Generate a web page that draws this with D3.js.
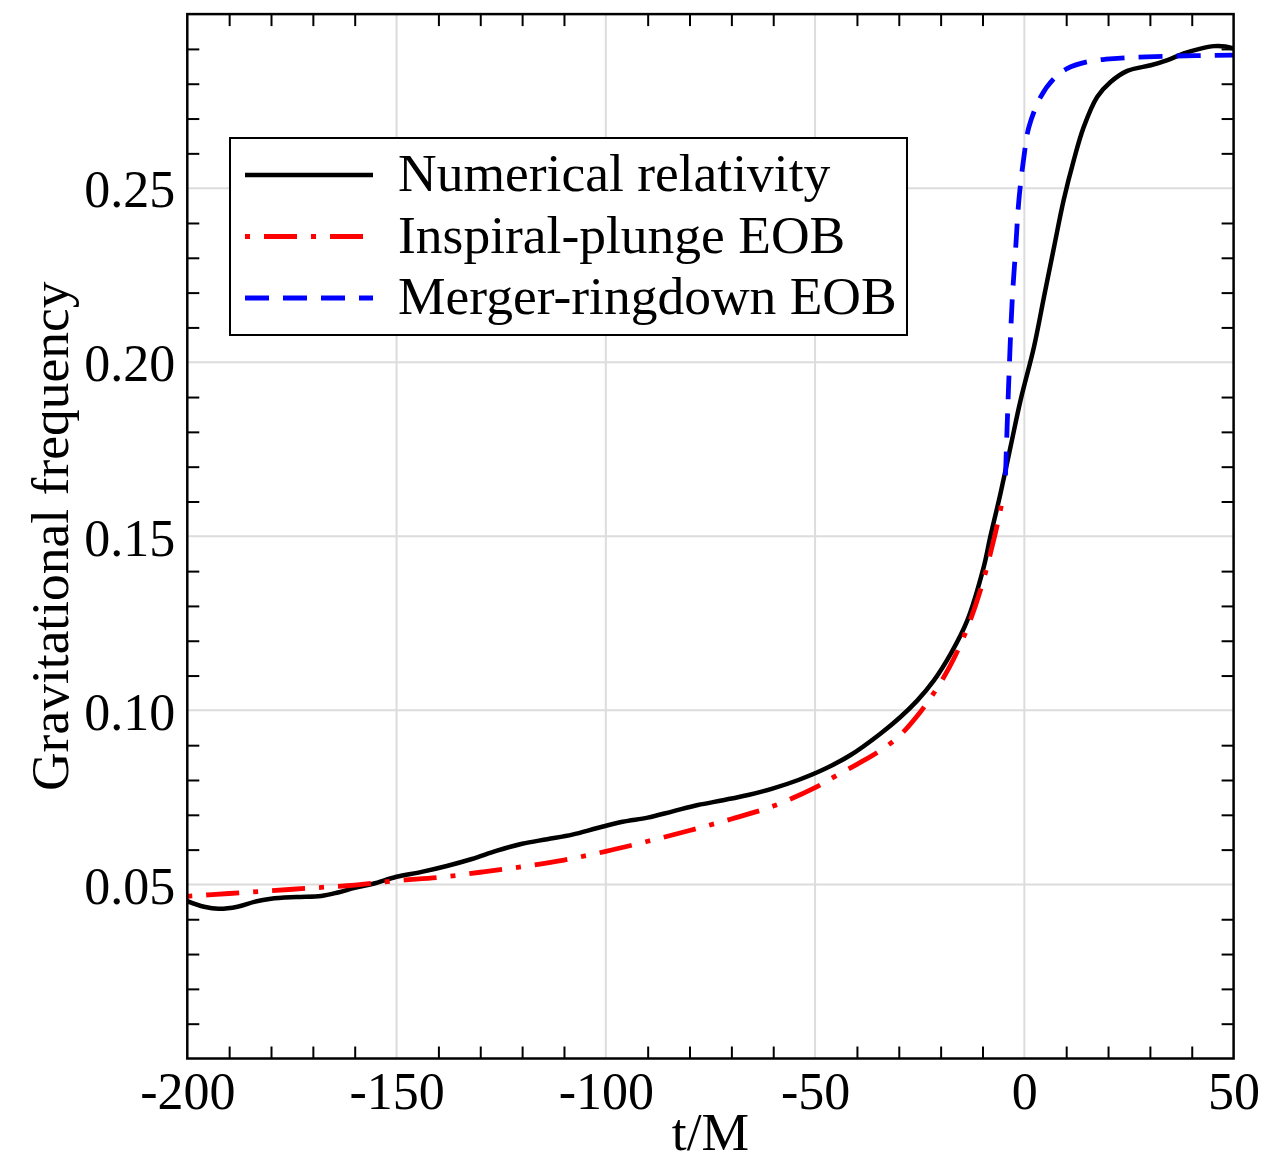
<!DOCTYPE html>
<html>
<head>
<meta charset="utf-8">
<script src="https://cdn.jsdelivr.net/npm/d3@7"></script>
<style>
	body { margin: 0; background: #fff; }
	text { font-family: "Liberation Serif", "Times New Roman", serif; fill: #000; }
</style>
</head>
<body>
<svg id="fig" width="1288" height="1162"></svg>
<script>
"use strict";

// données (t/M, fréquence)
var tempsNR = [-200, -196, -192.5, -188, -184, -180, -174, -168, -164, -160, -155.6, -150, -144, -138, -132, -126, -120, -114, -108, -102, -96, -90, -84, -78, -72, -66, -60, -54, -48, -41.6, -34.4, -29.6, -25.6, -21.6, -17.6, -13.6, -9.7, -8.2, -5.7, -3.3, -0.9, 2.3, 4.7, 7.1, 9.4, 11.8, 14.2, 17.4, 20.6, 24.6, 30.2, 34.2, 38.1, 42.1, 45.3, 48, 50];
var freqNR = [0.0452, 0.0436, 0.0430, 0.0436, 0.0450, 0.0459, 0.0464, 0.0467, 0.0477, 0.0490, 0.0502, 0.0522, 0.0536, 0.0553, 0.0573, 0.0597, 0.0617, 0.0630, 0.0643, 0.0662, 0.0680, 0.0692, 0.0710, 0.0728, 0.0742, 0.0757, 0.0776, 0.0800, 0.0830, 0.0871, 0.0933, 0.0981, 0.1028, 0.1086, 0.1162, 0.1259, 0.1412, 0.1495, 0.1623, 0.1757, 0.1891, 0.2044, 0.2188, 0.2331, 0.2466, 0.2580, 0.2676, 0.2762, 0.2805, 0.2837, 0.2853, 0.2868, 0.2887, 0.2901, 0.2908, 0.2907, 0.2901];

var tempsIP = [-200, -190, -180, -170, -160, -150, -140, -130, -120, -110, -100, -90, -80, -70, -60, -50, -45, -40, -35, -30, -26, -22, -18, -14, -10.5, -7.1, -5.3];
var freqIP = [0.0466, 0.0474, 0.0482, 0.0490, 0.0498, 0.0511, 0.0520, 0.0535, 0.0551, 0.0570, 0.0595, 0.0624, 0.0655, 0.0688, 0.0725, 0.0778, 0.0812, 0.0845, 0.0880, 0.0925, 0.0978, 0.1043, 0.1122, 0.1225, 0.1345, 0.1500, 0.1600];

var tempsMR = [-4.5, -3.8, -2.9, -2.1, -1.3, -0.1, 1.1, 3.9, 7.1, 10.3, 15, 22.2, 34.2, 50];
var freqMR = [0.1675, 0.1920, 0.2178, 0.2322, 0.2466, 0.2590, 0.2676, 0.2762, 0.2815, 0.2844, 0.2863, 0.2873, 0.2879, 0.2882];

var ticksX = [-200, -150, -100, -50, 0, 50];
var ticksY = [0.05, 0.10, 0.15, 0.20, 0.25];

var legende = ["Numerical relativity", "Inspiral-plunge EOB", "Merger-ringdown EOB"];

// styles des courbes
var styles = [
	{ couleur: "#000", tirets: null, epaisseur: 4.5 },
	{ couleur: "#ff0000", tirets: "5,14,33,14", epaisseur: 4.8 },
	{ couleur: "#0000ff", tirets: "24,14", epaisseur: 4.8 }
];

var cadre = { left: 187.3, right: 1233.6, top: 14.1, bottom: 1058.5 };

var svg = d3.select("#fig");

var x = d3.scaleLinear().domain([-200, 50]).range([cadre.left, cadre.right]);
var y = d3.scaleLinear().domain([0, 0.30]).range([cadre.bottom, cadre.top]);

var serie = (ts, vs) => ts.map((t, i) => [t, vs[i]]);
var series = [serie(tempsNR, freqNR), serie(tempsIP, freqIP), serie(tempsMR, freqMR)];

svg.append("defs")
.append("clipPath")
.attr("id", "clipTrace")
.append("rect")
.attr("x", cadre.left)
.attr("y", cadre.top)
.attr("width", cadre.right - cadre.left)
.attr("height", cadre.bottom - cadre.top);

// grilles
var gGrille = svg.append("g").attr("class", "grilles");
gGrille.selectAll("line.gx")
.data(ticksX.slice(1, -1))
.enter()
	.append("line")
	.attr("x1", d => x(d) )
	.attr("x2", d => x(d) )
	.attr("y1", cadre.top)
	.attr("y2", cadre.bottom);
gGrille.selectAll("line.gy")
.data(ticksY)
.enter()
	.append("line")
	.attr("x1", cadre.left)
	.attr("x2", cadre.right)
	.attr("y1", d => y(d) )
	.attr("y2", d => y(d) );
gGrille.selectAll("line")
.attr("stroke", "#dcdcdc")
.attr("stroke-width", 2);

// graduations secondaires (vers l'intérieur, sur les quatre côtés)
var mineursX = d3.range(-190, 50, 10).filter(d => d % 50 !== 0);
var mineursY = d3.range(1, 30).map(d => d / 100).filter((d, i) => (i + 1) % 5 !== 0);

function graduer(axe, translation) {
	var g = svg.append("g")
	.attr("transform", translation)
	.call(axe);
	g.select(".domain").remove();
	g.selectAll(".tick line").attr("stroke", "#000").attr("stroke-width", 2);
	return g;
}

graduer(d3.axisBottom(x).tickValues(mineursX).tickSize(-12).tickFormat(""), "translate(0," + cadre.bottom + ")");
graduer(d3.axisTop(x).tickValues(mineursX).tickSize(-12).tickFormat(""), "translate(0," + cadre.top + ")");
graduer(d3.axisLeft(y).tickValues(mineursY).tickSize(-12).tickFormat(""), "translate(" + cadre.left + ",0)");
graduer(d3.axisRight(y).tickValues(mineursY).tickSize(-12).tickFormat(""), "translate(" + cadre.right + ",0)");

// étiquettes principales
var gx = graduer(d3.axisBottom(x).tickValues(ticksX).tickSize(0).tickPadding(14).tickFormat(d3.format("d")), "translate(0," + cadre.bottom + ")");
var gy = graduer(d3.axisLeft(y).tickValues(ticksY).tickSize(0).tickPadding(12).tickFormat(d3.format(".2f")), "translate(" + cadre.left + ",0)");
svg.selectAll(".tick text")
.attr("font-family", "Liberation Serif, serif")
.attr("font-size", 52)
.attr("fill", "#000");
gx.selectAll(".tick text").text(d => d < 0 ? "-" + Math.abs(d) : d );
gy.selectAll(".tick text").attr("dy", "0.36em");

// courbes
var trace = d3.line()
.x(d => x(d[0]) )
.y(d => y(d[1]) )
.curve(d3.curveCatmullRom.alpha(0.5));

svg.append("g")
.attr("clip-path", "url(#clipTrace)")
.selectAll("path")
.data(series)
.enter()
	.append("path")
	.attr("d", trace)
	.attr("fill", "none")
	.attr("stroke", (d, i) => styles[i].couleur )
	.attr("stroke-width", (d, i) => styles[i].epaisseur )
	.attr("stroke-dasharray", (d, i) => styles[i].tirets )
	.attr("stroke-linejoin", "round");

// cadre
svg.append("rect")
.attr("x", cadre.left)
.attr("y", cadre.top)
.attr("width", cadre.right - cadre.left)
.attr("height", cadre.bottom - cadre.top)
.attr("fill", "none")
.attr("stroke", "#000")
.attr("stroke-width", 2.5);

// légende
var gLeg = svg.append("g").attr("transform", "translate(230,138)");
gLeg.append("rect")
.attr("width", 677)
.attr("height", 197)
.attr("fill", "#fff")
.attr("stroke", "#000")
.attr("stroke-width", 2);

var rangs = gLeg.selectAll("g.rang")
.data(legende)
.enter()
	.append("g")
	.attr("transform", (d, i) => "translate(0," + (37 + i * 61.5) + ")" );
rangs.append("line")
.attr("x1", 15)
.attr("x2", 143)
.attr("stroke", (d, i) => styles[i].couleur )
.attr("stroke-width", (d, i) => styles[i].epaisseur )
.attr("stroke-dasharray", (d, i) => styles[i].tirets );
rangs.append("text")
.attr("x", 168)
.attr("y", 16)
.attr("font-size", 53.5)
.text(d => d );

// titres des axes
svg.append("text")
.attr("x", (cadre.left + cadre.right) / 2)
.attr("y", 1150)
.attr("text-anchor", "middle")
.attr("font-size", 53.5)
.text("t/M");

svg.append("text")
.attr("transform", "translate(68," + (cadre.top + cadre.bottom) / 2 + ") rotate(-90)")
.attr("text-anchor", "middle")
.attr("font-size", 53.5)
.text("Gravitational frequency");
</script>
</body>
</html>
